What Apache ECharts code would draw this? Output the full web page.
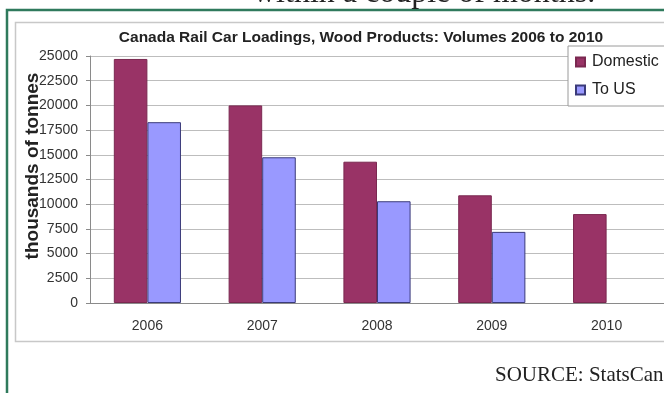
<!DOCTYPE html>
<html>
<head>
<meta charset="utf-8">
<script src="https://cdn.jsdelivr.net/npm/echarts@6/dist/echarts.min.js"></script>
<style>
html,body{margin:0;padding:0;background:#fff;}
#chart{width:664px;height:393px;}
</style>
</head>
<body>
<div id="chart"></div>
<script>
const categories = ['2006', '2007', '2008', '2009', '2010'];
const domestic = [24700, 20000, 14300, 10900, 9000];
const toUS = [18300, 14750, 10300, 7200, null];
const yTicks = { min: 0, max: 25000, interval: 2500 };
const titleText = 'Canada Rail Car Loadings, Wood Products: Volumes 2006 to 2010';
const yAxisTitle = 'thousands of tonnes';
const sourceText = 'SOURCE: StatsCan';
const headText = 'within a couple of months.';

const chart = echarts.init(document.getElementById('chart'), null, { renderer: 'canvas' });
const sans = 'Liberation Sans, Arial, sans-serif';
const serif = 'Liberation Serif, Times New Roman, serif';

chart.setOption({
  animation: false,
  backgroundColor: '#ffffff',
  title: {
    text: titleText,
    left: 356, top: 25, textAlign: 'center',
    textStyle: { fontFamily: sans, fontWeight: 'bold', fontSize: 15.5, color: '#222' }
  },
  legend: {
    orient: 'vertical',
    left: 568, top: 46,
    padding: [8, 12, 8, 7],
    itemGap: 12,
    itemWidth: 9, itemHeight: 9,
    borderColor: '#9a9a9a', borderWidth: 1,
    backgroundColor: '#fff',
    icon: 'rect',
    textStyle: { fontFamily: sans, fontSize: 16, color: '#222', padding: [0, 0, 0, 2] },
    data: ['Domestic', 'To US']
  },
  grid: { left: 90, top: 56, width: 575, height: 247, containLabel: false },
  xAxis: {
    type: 'category',
    data: categories,
    axisLine: { lineStyle: { color: '#8a8a8a', width: 1 } },
    axisTick: { show: false },
    axisLabel: { fontFamily: sans, fontSize: 14, color: '#333', margin: 16 }
  },
  yAxis: {
    type: 'value',
    min: yTicks.min, max: yTicks.max, interval: yTicks.interval,
    axisLine: { show: true, lineStyle: { color: '#8a8a8a', width: 1 } },
    axisTick: { show: true, length: 4, lineStyle: { color: '#8a8a8a' } },
    axisLabel: { fontFamily: sans, fontSize: 14, color: '#333', margin: 12,
      formatter: function (v) { return String(v); } },
    splitLine: { lineStyle: { color: '#bdbdbd', width: 1 } }
  },
  series: [
    {
      name: 'Domestic', type: 'bar', data: domestic,
      barGap: '0%', barCategoryGap: '41.5%',
      itemStyle: { color: '#993366', borderColor: '#7a2850', borderWidth: 1 }
    },
    {
      name: 'To US', type: 'bar', data: toUS,
      barGap: '0%', barCategoryGap: '41.5%',
      itemStyle: { color: '#9999ff', borderColor: '#3b3b7a', borderWidth: 1 }
    }
  ],
  graphic: [
    { type: 'rect', z: -10, silent: true, shape: { x: 7, y: 10, width: 720, height: 500 },
      style: { fill: 'none', stroke: '#2f7a5c', lineWidth: 2.5 } },
    { type: 'rect', z: -9, silent: true, shape: { x: 15.5, y: 22.5, width: 720, height: 319 },
      style: { fill: 'none', stroke: '#c8c8c8', lineWidth: 1.5 } },
    { type: 'text', x: 253, y: 10, silent: true,
      style: { text: headText, font: '32px ' + serif, fill: '#222', textAlign: 'left', textVerticalAlign: 'bottom' } },
    { type: 'text', x: 33, y: 166, rotation: Math.PI / 2, silent: true,
      style: { text: yAxisTitle, font: 'bold 19px ' + sans, fill: '#222', textAlign: 'center', textVerticalAlign: 'middle' } },
    { type: 'text', x: 495, y: 375, silent: true,
      style: { text: sourceText, font: '21px ' + serif, fill: '#222', textAlign: 'left', textVerticalAlign: 'middle' } }
  ]
});
</script>
</body>
</html>
